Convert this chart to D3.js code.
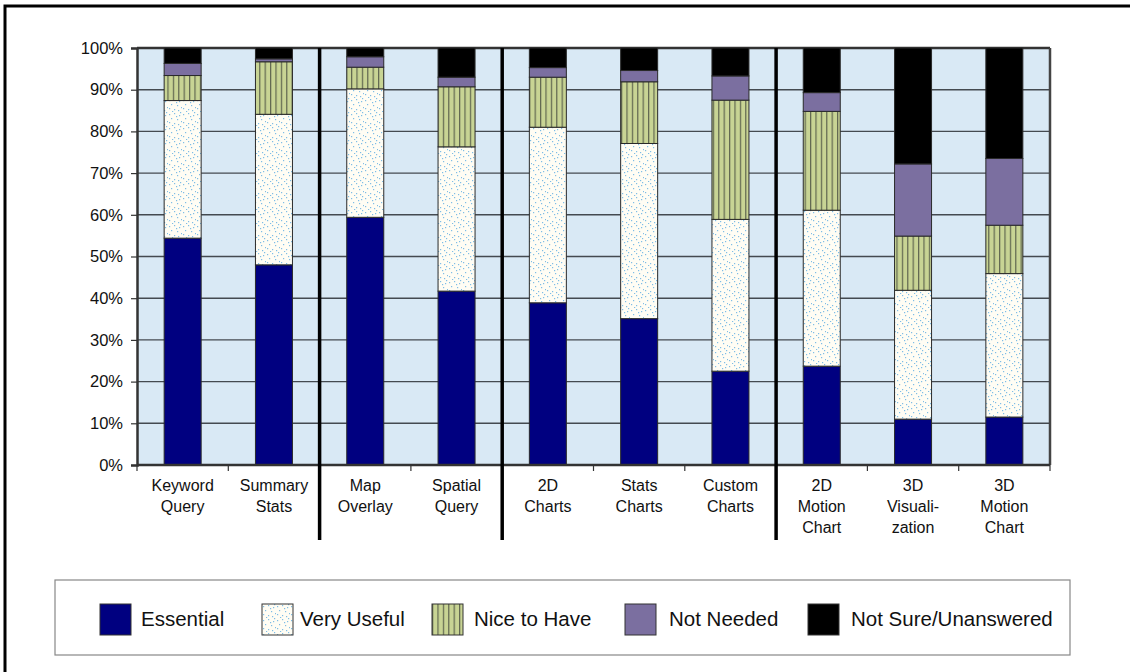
<!DOCTYPE html>
<html><head><meta charset="utf-8">
<script src="https://cdn.jsdelivr.net/npm/d3@7"></script>
<style>body{margin:0;background:#fff;}svg{display:block;font-family:"Liberation Sans",Arial,sans-serif;}</style>
</head><body>
<svg id="c" width="1130" height="672"></svg>
<script>
const categories = [
  ["Keyword","Query"],["Summary","Stats"],["Map","Overlay"],["Spatial","Query"],
  ["2D","Charts"],["Stats","Charts"],["Custom","Charts"],
  ["2D","Motion","Chart"],["3D","Visuali-","zation"],["3D","Motion","Chart"]
];
const seriesNames = ["Essential","Very Useful","Nice to Have","Not Needed","Not Sure/Unanswered"];
const essential  = [54.4,48.0,59.4,41.7,38.9,35.1,22.5,23.7,11.0,11.5];
const veryUseful = [33.0,36.1,30.8,34.6,42.1,42.0,36.4,37.4,30.9,34.4];
const niceToHave = [ 6.0,12.6, 5.2,14.4,12.0,14.8,28.6,23.7,13.0,11.6];
const notNeeded  = [ 2.9, 0.7, 2.5, 2.3, 2.3, 2.7, 5.8, 4.5,17.3,16.0];
const notSure    = [ 3.7, 2.6, 2.1, 7.0, 4.7, 5.4, 6.7,10.7,27.8,26.5];
const groupBreaks = [1,3,6]; // separators after these category indices
const yTicks = [0,10,20,30,40,50,60,70,80,90,100];

const svg = d3.select("#c");
const defs = svg.append("defs");
const pd = defs.append("pattern").attr("id","dots").attr("patternUnits","userSpaceOnUse")
  .attr("width",14).attr("height",14);
pd.append("rect").attr("width",14).attr("height",14).attr("fill","#fffdf4");
[[1,2],[6,1],[11,3],[3,6],[9,7],[13,9],[1,10],[6,11],[10,12],[4,13],[8,4],[12,0]].forEach(([x,y])=>{
  pd.append("rect").attr("x",x).attr("y",y).attr("width",1.2).attr("height",1.2).attr("fill","#7fbde6");
});
const pl = defs.append("pattern").attr("id","vlines").attr("patternUnits","userSpaceOnUse")
  .attr("width",5.4).attr("height",10);
pl.append("rect").attr("width",5.4).attr("height",10).attr("fill","#c8d494");
pl.append("rect").attr("x",0).attr("y",0).attr("width",1.2).attr("height",10).attr("fill","#5f6650");

const fills = ["#000080","url(#dots)","url(#vlines)","#7b6fa0","#000000"];

svg.append("rect").attr("x",5).attr("y",6).attr("width",1200).attr("height",1000)
  .attr("fill","none").attr("stroke","#000").attr("stroke-width",3);

const m = {l:137, t:48, r:1050, b:465};
const x = d3.scaleBand().domain(d3.range(categories.length)).range([m.l,m.r]).paddingInner(0).paddingOuter(0);
const y = d3.scaleLinear().domain([0,100]).range([m.b,m.t]);

svg.append("rect").attr("x",m.l).attr("y",m.t).attr("width",m.r-m.l).attr("height",m.b-m.t).attr("fill","#d9e9f5");

svg.append("g").selectAll("line").data(yTicks.slice(1)).join("line")
  .attr("x1",m.l).attr("x2",m.r).attr("y1",d=>y(d)).attr("y2",d=>y(d))
  .attr("stroke",d=>d===100?"#333":"#444a50").attr("stroke-width",d=>d===100?2.5:1.4);

const data = categories.map((c,i)=>({i, values:[essential[i],veryUseful[i],niceToHave[i],notNeeded[i],notSure[i]]}));
const stack = d3.stack().keys([0,1,2,3,4]).value((d,k)=>d.values[k]);
const series = stack(data);
const bw = 37;
svg.append("g").selectAll("g").data(series).join("g").attr("fill",(s,k)=>fills[k])
  .selectAll("rect").data(s=>s).join("rect")
  .attr("x",d=>x(d.data.i)+x.bandwidth()/2-bw/2).attr("width",bw)
  .attr("y",d=>y(d[1])).attr("height",d=>y(d[0])-y(d[1]))
  .attr("stroke","#2a2a2a").attr("stroke-width",1);

const yAxis = d3.axisLeft(y).tickValues(yTicks).tickFormat(d=>d+"%").tickSize(6).tickPadding(8);
const ya = svg.append("g").attr("transform",`translate(${m.l},0)`).call(yAxis);
ya.select(".domain").attr("stroke","#333").attr("stroke-width",2.5);
ya.selectAll(".tick line").attr("stroke","#333").attr("stroke-width",1.2);
ya.selectAll("text").attr("font-size",16.5).attr("fill","#111");

svg.append("line").attr("x1",m.r).attr("x2",m.r).attr("y1",m.t).attr("y2",m.b).attr("stroke","#444").attr("stroke-width",2.5);

const xa = svg.append("g").attr("transform",`translate(0,${m.b})`);
xa.append("line").attr("x1",m.l).attr("x2",m.r).attr("stroke","#333").attr("stroke-width",2.5);
xa.selectAll(".tk").data(d3.range(categories.length+1)).join("line").attr("class","tk")
  .attr("x1",i=>i<categories.length?x(i):m.r).attr("x2",i=>i<categories.length?x(i):m.r)
  .attr("y1",0).attr("y2",6).attr("stroke","#333").attr("stroke-width",1.2);
xa.selectAll("text").data(categories).join("text")
  .attr("text-anchor","middle").attr("font-size",16).attr("fill","#111")
  .attr("transform",(c,i)=>`translate(${x(i)+x.bandwidth()/2},0)`)
  .each(function(c){
    d3.select(this).selectAll("tspan").data(c).join("tspan").attr("x",0).attr("y",(t,j)=>26+j*21).text(t=>t);
  });

svg.append("g").selectAll("line").data(groupBreaks).join("line")
  .attr("x1",g=>x(g+1)).attr("x2",g=>x(g+1)).attr("y1",m.t).attr("y2",540)
  .attr("stroke","#000").attr("stroke-width",3.5);

svg.append("rect").attr("x",55).attr("y",580).attr("width",1015).attr("height",75)
  .attr("fill","#fff").attr("stroke","#888").attr("stroke-width",1.2);
const legX = [100,262,432,625,808];
const lg = svg.append("g").selectAll("g").data(seriesNames).join("g")
  .attr("transform",(d,i)=>`translate(${legX[i]},604)`);
lg.append("rect").attr("width",31).attr("height",31).attr("fill",(d,i)=>fills[i]).attr("stroke","#333").attr("stroke-width",1);
lg.append("text").attr("x",(d,i)=>[41,38,42,44,43][i]).attr("y",22).attr("font-size",20.5).attr("fill","#111").text(d=>d);
</script>
</body></html>
